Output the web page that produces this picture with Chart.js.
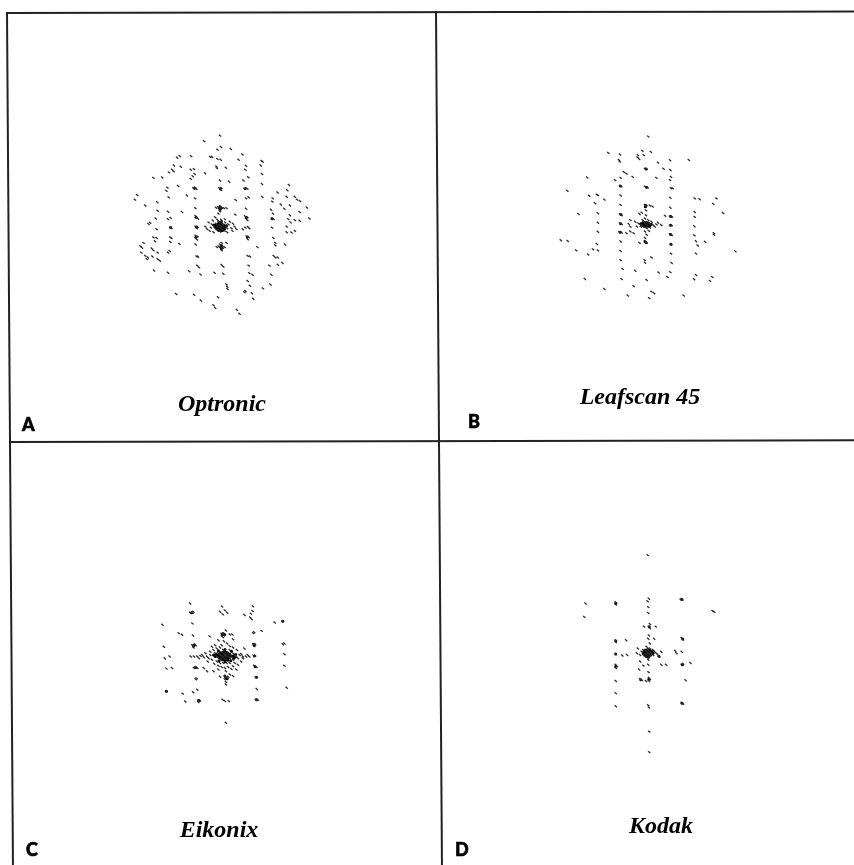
<!DOCTYPE html>
<html>
<head>
<meta charset="utf-8">
<title>Scanner spectra</title>
<script src="https://cdn.jsdelivr.net/npm/chart.js@4"></script>
<style>
html, body { margin: 0; padding: 0; background: #fff; }
#page { position: relative; width: 854px; height: 865px; overflow: hidden; }
canvas { position: absolute; }
.rule { position: absolute; background: #222; transform-origin: 0 0; }
.name { position: absolute; font: italic bold 24px "Liberation Serif", serif; color: #000; transform: translateX(-50%); white-space: nowrap; }
.tag { position: absolute; font: 900 18px Lato, sans-serif; color: #000; -webkit-text-stroke: 0.6px #000; }
</style>
</head>
<body>
<div id="page"></div>
<script>
const panelNames = ['Optronic', 'Leafscan 45', 'Eikonix', 'Kodak'];
const panelTags = ['A', 'B', 'C', 'D'];

// spot readings off the plates: [across, down]
const optronicSpots = [
    [300,25],[251,42],[303,60],[292,68],[333,66],[369,83],[357,99],[428,103],[431,105],[425,117],
    [211,88],[176,88],[168,93],[270,91],[275,90],[292,97],[302,99],[289,120],[290,125],[318,124],
    [380,118],[378,130],[158,117],[179,121],[153,130],[143,138],[157,135],[122,154],[95,155],[210,130],
    [220,128],[222,143],[216,150],[210,158],[254,141],[300,163],[328,167],[372,163],[387,153],[429,143],
    [429,174],[171,180],[138,185],[135,195],[218,187],[224,185],[227,189],[298,187],[303,192],[304,186],
    [375,188],[384,188],[512,177],[507,193],[477,200],[45,208],[38,222],[142,215],[198,209],[223,218],
    [348,223],[380,218],[388,215],[430,214],[462,218],[461,228],[505,213],[530,213],[537,222],[546,226],
    [70,240],[107,230],[487,237],[498,250],[515,240],[567,246],[108,256],[140,259],[183,260],[224,248],
    [288,247],[294,245],[300,243],[300,250],[306,247],[312,248],[320,248],[300,258],[295,265],[347,268],
    [380,250],[457,253],[463,265],[545,260],[515,270],[102,280],[85,293],[80,297],[140,282],[148,278],
    [225,272],[228,277],[232,281],[377,273],[384,276],[380,281],[384,285],[460,280],[465,282],[510,282],
    [530,285],[517,292],[575,280],[545,287],[105,313],[147,308],[150,309],[225,305],[231,306],[228,310],
    [265,292],[255,305],[260,312],[268,318],[275,298],[280,303],[284,310],[288,296],[290,305],[292,315],
    [296,290],[298,300],[300,308],[300,320],[304,295],[305,304],[306,312],[310,299],[312,308],[314,318],
    [316,292],[318,304],[322,310],[326,298],[304,284],[292,284],[340,296],[345,305],[350,312],[338,318],
    [370,313],[378,308],[386,306],[390,310],[460,308],[505,305],[530,318],[520,323],[505,322],[147,338],
    [150,340],[225,333],[231,335],[225,340],[229,345],[382,335],[388,337],[385,344],[464,340],[95,338],
    [105,340],[100,350],[147,352],[175,358],[225,360],[290,368],[296,366],[302,368],[308,370],[314,368],
    [305,355],[305,362],[305,378],[300,360],[320,355],[470,355],[470,362],[500,360],[415,368],[65,355],
    [55,365],[60,370],[90,372],[95,378],[108,385],[145,380],[140,385],[58,385],[70,395],[78,400],
    [75,405],[92,397],[108,405],[115,410],[228,397],[232,397],[385,395],[392,397],[465,395],[470,400],
    [478,400],[492,417],[478,422],[452,425],[230,425],[235,430],[305,423],[310,428],[388,425],[97,440],
    [140,447],[205,442],[240,452],[283,447],[310,450],[390,448],[400,453],[458,453],[385,472],[392,487],
    [320,483],[322,490],[323,497],[432,495],[455,483],[378,503],[375,507],[398,510],[402,527],[165,512],
    [220,515],[294,522],[241,532],[280,547],[285,555],[352,561],[360,573],[272,308],[278,286],[330,290],
    [335,310],[280,322],[322,322],[285,276],[315,282]
];
const optronicCore = [
    [288,300],[294,298],[300,296],[306,298],[312,300],[286,306],[292,305],[298,304],[304,304],[310,305],
    [316,306],[290,312],[296,311],[302,311],[308,311],[314,312],[296,317],[302,318],[308,317],[296,291],
    [304,290],[298,248],[303,248],[300,244],[300,252],[302,368],[306,368],[304,363],[304,373],[228,306],
    [381,277],[384,337],[226,338],[148,308],[301,189],[222,187],[378,188],[226,276],[460,281],[281,300],
    [320,302]
];

const leafscanSpots = [
    [295,28],[172,78],[208,83],[277,72],[303,75],[281,85],[263,85],[262,92],[267,97],[205,100],
    [207,105],[325,108],[362,101],[420,100],[342,127],[363,131],[285,127],[290,127],[220,137],[228,142],
    [247,152],[210,155],[193,162],[107,154],[320,155],[365,152],[362,162],[208,180],[212,181],[285,182],
    [293,185],[365,187],[370,187],[46,195],[113,210],[137,207],[140,208],[160,222],[210,209],[131,233],
    [363,216],[438,218],[453,221],[505,218],[495,235],[210,238],[285,238],[287,243],[300,240],[308,243],
    [363,247],[438,260],[525,263],[80,266],[140,264],[208,267],[213,270],[288,255],[288,270],[275,262],
    [268,266],[347,272],[362,274],[368,274],[438,275],[140,293],[208,295],[213,297],[240,285],[235,297],
    [240,305],[255,290],[265,295],[270,298],[275,300],[280,290],[285,295],[290,300],[295,295],[300,298],
    [305,290],[310,300],[315,305],[320,298],[325,293],[335,300],[280,305],[290,310],[300,308],[272,305],
    [260,305],[278,285],[295,285],[285,280],[362,302],[367,301],[437,304],[140,321],[206,322],[213,323],
    [228,325],[240,320],[250,325],[285,320],[290,330],[297,318],[362,328],[367,331],[437,332],[497,325],
    [497,330],[365,359],[285,350],[290,355],[268,355],[285,340],[26,347],[47,349],[137,358],[125,375],
    [140,378],[73,378],[110,391],[210,351],[210,380],[365,388],[442,350],[447,363],[470,352],[442,388],
    [563,381],[305,400],[284,408],[285,416],[210,408],[367,417],[216,435],[255,441],[327,446],[363,445],
    [354,460],[442,454],[436,467],[492,460],[485,472],[100,466],[213,466],[290,469],[250,488],[160,497],
    [232,517],[298,525],[305,505],[313,510],[404,517]
];
const leafscanCore = [
    [272,296],[278,294],[284,292],[290,292],[296,294],[274,300],[280,299],[286,298],[292,298],[298,299],
    [304,298],[282,304],[288,304],[294,304],[300,303],[288,240],[286,244],[288,354],[285,351],[211,268],
    [210,296],[209,322],[364,274],[364,301],[364,329],[209,180],[290,184],[288,128],[365,359]
];

const eikonixSpots = [
    [118,127],[216,136],[311,135],[118,155],[125,155],[128,152],[210,152],[218,160],[225,148],[232,155],
    [285,162],[310,150],[305,158],[303,170],[307,175],[403,181],[378,185],[125,188],[33,192],[83,218],
    [93,223],[127,225],[215,220],[220,218],[222,225],[218,230],[228,210],[240,222],[248,222],[178,228],
    [312,218],[315,215],[338,211],[125,255],[130,258],[135,255],[128,262],[37,260],[312,252],[318,252],
    [315,258],[403,252],[408,250],[250,237],[205,240],[222,243],[120,290],[130,290],[140,290],[150,288],
    [155,285],[165,280],[175,295],[180,285],[190,270],[195,280],[200,290],[205,280],[205,295],[210,285],
    [210,275],[215,290],[215,300],[220,280],[220,270],[220,290],[225,285],[225,295],[225,275],[230,285],
    [230,290],[230,300],[235,280],[235,290],[240,285],[240,270],[240,295],[245,290],[250,280],[250,300],
    [255,285],[260,290],[265,295],[270,285],[280,290],[290,290],[300,290],[200,305],[210,310],[220,310],
    [230,310],[240,310],[195,255],[215,255],[185,260],[285,265],[265,315],[170,335],[160,325],[190,335],
    [205,330],[225,325],[228,335],[250,320],[260,330],[40,296],[55,290],[313,287],[318,287],[408,283],
    [45,327],[62,325],[130,325],[135,323],[140,325],[318,320],[322,322],[315,318],[408,318],[135,360],
    [138,357],[210,352],[225,350],[230,355],[235,352],[225,360],[228,368],[250,350],[240,345],[320,354],
    [228,376],[323,390],[415,386],[45,397],[140,392],[95,404],[127,400],[103,428],[143,425],[148,425],
    [143,430],[218,423],[225,427],[237,427],[320,423],[326,423],[228,494],[170,290],[160,292],[145,295],
    [280,295],[275,282],[295,285],[185,300],[192,312],[205,318],[215,322],[235,322],[245,328],[255,310],
    [262,270],[250,262],[240,258],[232,250],[210,262],[200,265],[180,275],[172,305],[275,305]
];
const eikonixCore = [
    [205,285],[210,280],[215,278],[220,276],[225,275],[230,277],[235,280],[240,283],[208,290],[214,287],
    [220,284],[226,283],[232,285],[238,288],[244,289],[212,295],[218,293],[224,291],[230,293],[236,295],
    [216,300],[222,299],[228,300],[234,301],[250,288],[200,288],[220,220],[216,224],[224,222],[228,355],
    [225,350],[232,358],[128,256],[131,254],[315,252],[315,256],[316,288],[318,321],[135,324],[122,155],
    [322,354],[45,397],[145,425],[322,423],[403,181],[195,290],[190,285],[255,292],[258,284],[198,282],
    [252,296],[205,272],[245,274],[207,303],[243,303],[225,268],[225,306]
];

const kodakSpots = [
    [233,38],[42,187],[135,183],[135,190],[237,172],[233,180],[335,175],[340,175],[235,198],[235,216],
    [433,210],[438,212],[38,228],[222,258],[237,258],[240,250],[240,263],[258,258],[237,285],[235,295],
    [135,300],[135,305],[167,300],[253,295],[338,293],[342,298],[203,325],[135,342],[155,347],[170,345],
    [318,333],[338,335],[322,340],[200,340],[210,345],[215,335],[220,330],[220,345],[225,340],[225,330],
    [225,350],[230,335],[230,345],[230,320],[235,340],[235,330],[235,350],[240,335],[240,345],[240,325],
    [245,340],[250,330],[250,345],[255,335],[260,340],[265,345],[268,350],[240,310],[235,360],[235,375],
    [210,365],[275,335],[135,375],[135,385],[138,380],[275,375],[290,375],[338,375],[342,372],[365,370],
    [220,378],[207,390],[236,398],[135,425],[210,420],[215,422],[228,425],[237,415],[237,425],[240,420],
    [350,423],[135,463],[135,503],[235,500],[237,507],[338,492],[342,495],[238,581],[238,644]
];
const kodakCore = [
    [222,334],[228,330],[234,328],[240,330],[246,334],[220,340],[226,338],[232,336],[238,336],[244,339],
    [250,340],[224,345],[230,344],[236,344],[242,346],[230,350],[236,352],[238,258],[237,420],[212,421],
    [340,375],[135,380],[341,296],[338,174],[339,494],[135,186],[135,342],[135,302],[268,349]
];

const panelSpots = [optronicSpots, leafscanSpots, eikonixSpots, kodakSpots];
const panelCores = [optronicCore, leafscanCore, eikonixCore, kodakCore];

// box on the page and axis limits (same reading units as the spots)
const panels = [
    { left: 8,   top: 12,  w: 427, h: 427, x: [-336, 945], y: [-339, 942] },
    { left: 436, top: 12,  w: 418, h: 426, x: [-342, 912], y: [-339, 939] },
    { left: 8,   top: 440, w: 427, h: 425, x: [-426, 855], y: [-360, 915] },
    { left: 436, top: 439, w: 418, h: 426, x: [-402, 852], y: [-303, 975] }
];
const namePos = [[222, 390], [640, 383], [219, 816], [661, 812]];
const tagPos = [[22, 413], [468, 410], [26, 838], [455, 838]];

// frame lines, they sit slightly crooked on the scan
const rules = [
    { left: 6,   top: 12,  w: 2,   h: 853, turn: -0.4 },
    { left: 435, top: 11,  w: 2,   h: 854, turn: -0.4 },
    { left: 6,   top: 12,  w: 848, h: 2,   turn: -0.1 },
    { left: 9,   top: 441, w: 845, h: 2,   turn: -0.12 }
];

const page = document.getElementById('page');

rules.forEach(r => {
    const line = document.createElement('div');
    line.className = 'rule';
    line.style.cssText = `left:${r.left}px;top:${r.top}px;width:${r.w}px;height:${r.h}px;transform:rotate(${r.turn}deg)`;
    page.appendChild(line);
});

panels.forEach((p, i) => {
    const canvas = document.createElement('canvas');
    canvas.style.left = p.left + 'px';
    canvas.style.top = p.top + 'px';
    canvas.style.width = p.w + 'px';
    canvas.style.height = p.h + 'px';
    canvas.width = p.w;
    canvas.height = p.h;
    page.appendChild(canvas);

    new Chart(canvas.getContext('2d'), {
        type: 'scatter',
        data: {
            datasets: [{
                label: panelNames[i],
                data: panelSpots[i].map(s => ({ x: s[0], y: s[1] })),
                pointStyle: 'line',
                pointRotation: 40,
                pointRadius: 1.5,
                borderColor: '#2a2a2a',
                backgroundColor: '#2a2a2a',
                pointBorderWidth: 1.3
            }, {
                label: panelNames[i] + ' core',
                data: panelCores[i].map(s => ({ x: s[0], y: s[1] })),
                pointStyle: 'circle',
                pointRadius: 1.5,
                borderColor: '#000',
                backgroundColor: '#000',
                pointBorderWidth: 0
            }]
        },
        options: {
            responsive: false,
            animation: false,
            layout: { padding: 0 },
            plugins: {
                legend: { display: false },
                tooltip: { enabled: false }
            },
            scales: {
                x: { display: false, min: p.x[0], max: p.x[1] },
                y: { display: false, min: p.y[0], max: p.y[1], reverse: true }
            }
        }
    });

    const name = document.createElement('div');
    name.className = 'name';
    name.textContent = panelNames[i];
    name.style.left = namePos[i][0] + 'px';
    name.style.top = namePos[i][1] + 'px';
    page.appendChild(name);

    const tag = document.createElement('div');
    tag.className = 'tag';
    tag.textContent = panelTags[i];
    tag.style.left = tagPos[i][0] + 'px';
    tag.style.top = tagPos[i][1] + 'px';
    page.appendChild(tag);
});
</script>
</body>
</html>
